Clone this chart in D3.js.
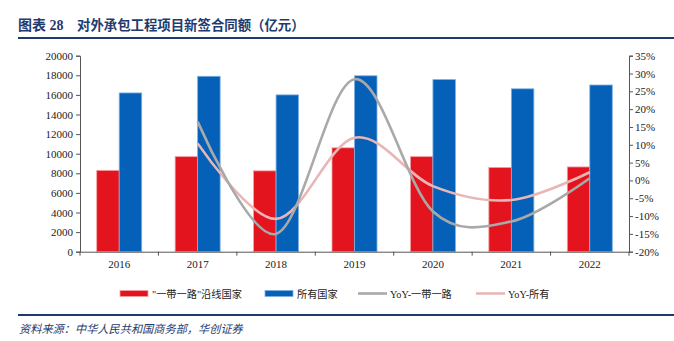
<!DOCTYPE html>
<html><head><meta charset="utf-8">
<script src="https://cdn.jsdelivr.net/npm/d3@7"></script>
<style>body{margin:0;background:#fff}svg{display:block}</style>
</head><body>
<svg id="c" width="674" height="341"></svg>
<script>
const years = ["2016","2017","2018","2019","2020","2021","2022"];
const beltRoad = [8300, 9700, 8250, 10600, 9700, 8600, 8650];
const allCountries = [16200, 17900, 16000, 17950, 17560, 16620, 17010];
const yoyBelt = [null, 16.5, -15.0, 28.4, -8.7, -11.5, 0.6];
const yoyAll = [null, 10.4, -10.8, 12.0, -1.6, -5.5, 2.3];
const leftTicks = [0,2000,4000,6000,8000,10000,12000,14000,16000,18000,20000];
const rightTicks = [-20,-15,-10,-5,0,5,10,15,20,25,30,35];
const seriesNames = ["\"一带一路\"沿线国家","所有国家","YoY-一带一路","YoY-所有"];
const titleNum = "图表 28";
const titleText = "对外承包工程项目新签合同额（亿元）";
const source = "资料来源：中华人民共和国商务部，华创证券";

const svg = d3.select("#c");
const L = 80, R = 629, T = 55.7, B = 251.7;
const navy = "#1F3A6E";
const red = "#E3141E", blue = "#0561B8", gray = "#A9A9A9", pink = "#E8B6B6";
const serif = "'Liberation Serif','Times New Roman',serif";
const cjk = "'Noto Sans CJK SC',sans-serif";
const mixed = "'Liberation Serif','Noto Sans CJK SC',serif";

// title
svg.append("text").attr("x",18).attr("y",30).attr("fill",navy)
  .attr("font-family",mixed).attr("font-weight","bold").attr("font-size",14).text(titleNum);
svg.append("text").attr("x",77).attr("y",30).attr("fill",navy)
  .attr("font-family",cjk).attr("font-weight","bold").attr("font-size",13.4).text(titleText);
svg.append("line").attr("x1",18).attr("x2",674).attr("y1",38).attr("y2",38)
  .attr("stroke",navy).attr("stroke-width",2);
svg.append("line").attr("x1",18).attr("x2",674).attr("y1",315).attr("y2",315)
  .attr("stroke",navy).attr("stroke-width",2);
svg.append("text").attr("x",19).attr("y",333).attr("fill",navy)
  .attr("font-family",cjk).attr("font-style","italic").attr("font-size",11.2).text(source);

const x = d3.scaleBand().domain(years).range([L,R]).paddingInner(0).paddingOuter(0);
const y = d3.scaleLinear().domain([0,20000]).range([B,T]);
const y2 = d3.scaleLinear().domain([-20,35]).range([B,T]);
const bw = 22.5;

// bars
const g = svg.append("g");
years.forEach((yr,i)=>{
  const cx = x(yr) + x.bandwidth()/2;
  g.append("rect").attr("x",cx-bw).attr("y",y(beltRoad[i])).attr("width",bw)
    .attr("height",B-y(beltRoad[i])).attr("fill",red).attr("stroke","#F4A0A4").attr("stroke-width",0.8);
  g.append("rect").attr("x",cx).attr("y",y(allCountries[i])).attr("width",bw)
    .attr("height",B-y(allCountries[i])).attr("fill",blue).attr("stroke","#7FB0E0").attr("stroke-width",0.8);
});

// lines
const line = d3.line().defined(d=>d[1]!=null)
  .x(d=>x(d[0])+x.bandwidth()/2).y(d=>y2(d[1])).curve(d3.curveCatmullRom.alpha(0));
const dBelt = years.map((yr,i)=>[yr,yoyBelt[i]]).filter(d=>d[1]!=null);
const dAll = years.map((yr,i)=>[yr,yoyAll[i]]).filter(d=>d[1]!=null);
svg.append("path").attr("d",line(dAll)).attr("fill","none").attr("stroke",pink).attr("stroke-width",2.6);
svg.append("path").attr("d",line(dBelt)).attr("fill","none").attr("stroke",gray).attr("stroke-width",2.6);

// axes
const axCol = "#555";
const ax = svg.append("g").attr("transform",`translate(0,${B})`)
  .call(d3.axisBottom(x).tickSize(0).tickPadding(9));
ax.select(".domain").attr("stroke",axCol);
ax.selectAll("text").attr("font-family",serif).attr("font-size",11).attr("fill","#222");
const bounds = years.map(yr=>x(yr)).concat([R]);
svg.append("g").selectAll("line").data(bounds).join("line")
  .attr("x1",d=>d).attr("x2",d=>d).attr("y1",B).attr("y2",B+4).attr("stroke",axCol);

const al = svg.append("g").attr("transform",`translate(${L},0)`)
  .call(d3.axisLeft(y).tickValues(leftTicks).tickSize(4).tickPadding(3).tickFormat(d3.format("d")));
al.select(".domain").attr("stroke",axCol);
al.selectAll("line").attr("stroke",axCol);
al.selectAll("text").attr("font-family",serif).attr("font-size",11).attr("fill","#222");

const ar = svg.append("g").attr("transform",`translate(${R},0)`)
  .call(d3.axisRight(y2).tickValues(rightTicks).tickSize(4).tickPadding(2).tickFormat(d=>d+"%"));
ar.select(".domain").attr("stroke",axCol);
ar.selectAll("line").attr("stroke",axCol);
ar.selectAll("text").attr("font-family",serif).attr("font-size",11).attr("fill","#222");

// legend
const ly = 293.5;
const leg = [
  {x:120, type:"rect", c:red, s:"#F4A0A4"},
  {x:265, type:"rect", c:blue, s:"#7FB0E0"},
  {x:358, type:"line", c:gray},
  {x:476, type:"line", c:pink}
];
leg.forEach((l,i)=>{
  if(l.type==="rect"){
    svg.append("rect").attr("x",l.x).attr("y",ly-3).attr("width",28).attr("height",6)
      .attr("fill",l.c).attr("stroke",l.s).attr("stroke-width",0.8);
  } else {
    svg.append("line").attr("x1",l.x).attr("x2",l.x+29).attr("y1",ly).attr("y2",ly)
      .attr("stroke",l.c).attr("stroke-width",2.6);
  }
  svg.append("text").attr("x",l.x+32).attr("y",ly+4).attr("font-family",mixed)
    .attr("font-size",10.2).attr("fill","#222").text(seriesNames[i]);
});
</script>
</body></html>
